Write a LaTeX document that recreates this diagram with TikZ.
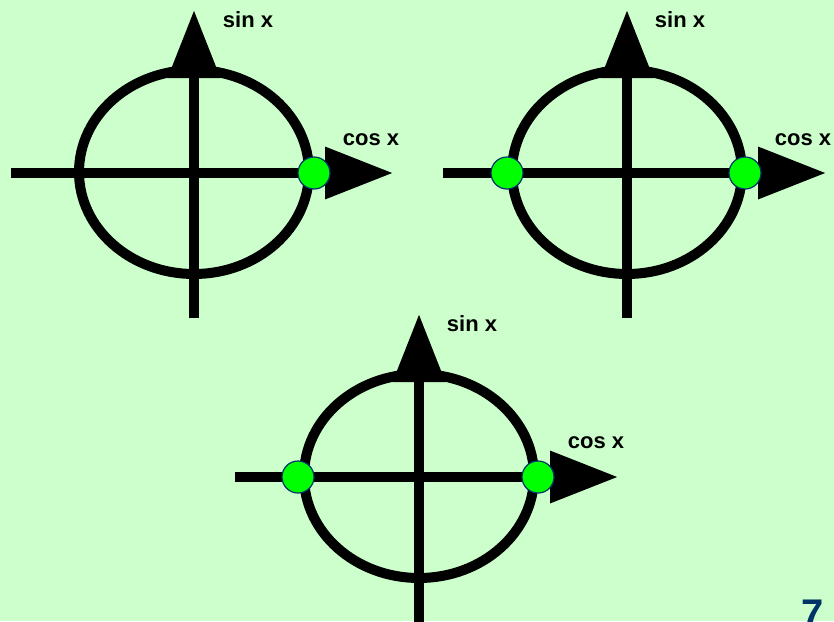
\documentclass[tikz,border=0pt]{standalone}
\usepackage{fontspec}
\setmainfont{Liberation Sans}
\usetikzlibrary{arrows.meta}
\definecolor{bg}{HTML}{CCFFCC}
\definecolor{dotgreen}{HTML}{00FF00}
\definecolor{navy}{HTML}{003366}
\tikzset{
  axis/.style={line width=10pt, -{Triangle[length=68pt,width=50pt]}},
  ring/.style={line width=10pt},
  pt/.style={circle, fill=dotgreen, draw=navy, line width=1.2pt, minimum size=32pt, inner sep=0pt},
  lbl/.style={font=\bfseries\fontsize{22}{22}\selectfont, inner sep=0pt}
}
\begin{document}
\begin{tikzpicture}[x=1pt,y=-1pt]
\useasboundingbox (0,0) rectangle (834,621);
\fill[bg] (0,0) rectangle (834,621);
\clip (0,0) rectangle (834,621);
% ---- top left
\coordinate (a1) at (11,173);
\coordinate (a2) at (393,173);
\coordinate (a3) at (194,318);
\coordinate (a4) at (194,10);
\draw[ring] (194,172) ellipse [x radius=115, y radius=102];
\draw[axis] (a1) -- (a2);
\draw[axis] (a3) -- (a4);
\node[pt] (ad1) at (314,173) {};
\node[lbl] (as) at (248,20) {sin x};
\node[lbl] (ac) at (371,140) {cos x};
% ---- top right
\coordinate (b1) at (443,173);
\coordinate (b2) at (826,173);
\coordinate (b3) at (627,318);
\coordinate (b4) at (627,10);
\draw[ring] (627,172) ellipse [x radius=115, y radius=102];
\draw[axis] (b1) -- (b2);
\draw[axis] (b3) -- (b4);
\node[pt] (bd1) at (507,173) {};
\node[pt] (bd2) at (745,173) {};
\node[lbl] (bs) at (680,20) {sin x};
\node[lbl] (bc) at (803,140) {cos x};
% ---- bottom
\coordinate (c1) at (235,477);
\coordinate (c2) at (618,477);
\coordinate (c3) at (419,630);
\coordinate (c4) at (419,314);
\draw[ring] (419,476) ellipse [x radius=115, y radius=102];
\draw[axis] (c1) -- (c2);
\draw[axis] (c3) -- (c4);
\node[pt] (cd1) at (298,477) {};
\node[pt] (cd2) at (538,477) {};
\node[lbl] (cs) at (472,324) {sin x};
\node[lbl] (cc) at (596,443) {cos x};
% ---- page number (cut at the lower edge, as in the reference)
\node[font=\bfseries\fontsize{40}{40}\selectfont, text=navy, anchor=base, inner sep=0pt] (num) at (813,627) {7};
\end{tikzpicture}
\end{document}
